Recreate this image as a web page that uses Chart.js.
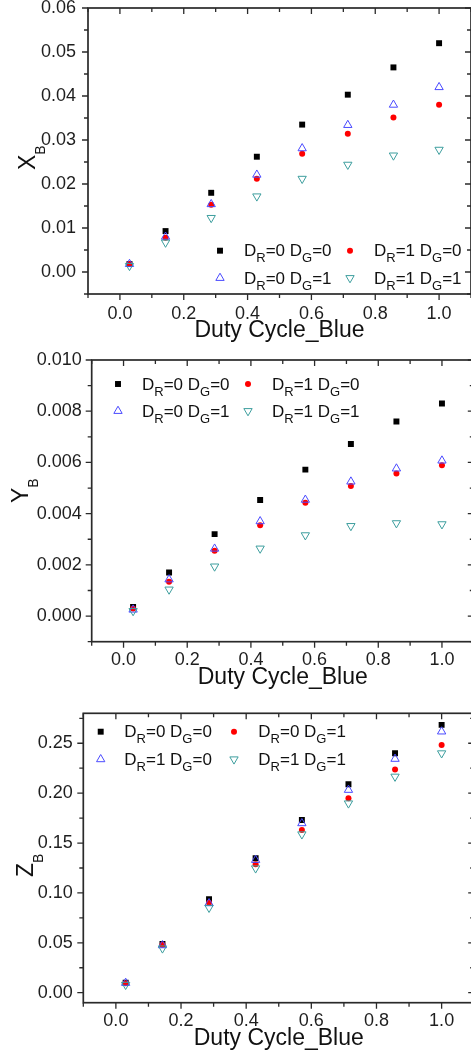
<!DOCTYPE html>
<html>
<head>
<meta charset="utf-8">
<script src="https://cdn.jsdelivr.net/npm/chart.js@4.4.0/dist/chart.umd.min.js"></script>
<style>
  html, body { margin: 0; padding: 0; background: #fff; overflow: hidden; width: 471px; height: 1055px; }
  canvas { position: absolute; left: 0; }
</style>
</head>
<body>
<canvas id="cx" width="480" height="350" style="top:0"></canvas>
<canvas id="cy" width="480" height="355" style="top:340px"></canvas>
<canvas id="cz" width="480" height="375" style="top:680px"></canvas>
<script>
// --- données ---
const dutyCycle = [0.03, 0.143, 0.286, 0.429, 0.571, 0.714, 0.857, 1.0];

const xbR0G0 = [0.0018, 0.0093, 0.0180, 0.0262, 0.0335, 0.0403, 0.0465, 0.0520];
const xbR1G0 = [0.0018, 0.0078, 0.0153, 0.0212, 0.0269, 0.0314, 0.0351, 0.0380];
const xbR0G1 = [0.0018, 0.0080, 0.0154, 0.0221, 0.0281, 0.0334, 0.0380, 0.0420];
const xbR1G1 = [0.0014, 0.0067, 0.0123, 0.0172, 0.0212, 0.0244, 0.0265, 0.0278];

const ybR0G0 = [0.00036, 0.0017, 0.0032, 0.00453, 0.00572, 0.00672, 0.0076, 0.0083];
const ybR1G0 = [0.00030, 0.00134, 0.00255, 0.00355, 0.00443, 0.00508, 0.00557, 0.00589];
const ybR0G1 = [0.00025, 0.00143, 0.00263, 0.00370, 0.00454, 0.00525, 0.00576, 0.00607];
const ybR1G1 = [0.00020, 0.00104, 0.00194, 0.00264, 0.00316, 0.00352, 0.00363, 0.00359];

const zbR0G0 = [0.0100, 0.0488, 0.0936, 0.1347, 0.1731, 0.2089, 0.2400, 0.2684];
const zbR0G1 = [0.0095, 0.0480, 0.0902, 0.1287, 0.1630, 0.1949, 0.2236, 0.2483];
const zbR1G0 = [0.0098, 0.0475, 0.0896, 0.1330, 0.1698, 0.2032, 0.2343, 0.2617];
const zbR1G1 = [0.0080, 0.0445, 0.0852, 0.1247, 0.1588, 0.1898, 0.2166, 0.2400];

const labelsXY = ['D_R=0 D_G=0', 'D_R=1 D_G=0', 'D_R=0 D_G=1', 'D_R=1 D_G=1'];
const labelsZ  = ['D_R=0 D_G=0', 'D_R=0 D_G=1', 'D_R=1 D_G=0', 'D_R=1 D_G=1'];

// graduations
const xTickValues = [-0.1, 0, 0.1, 0.2, 0.3, 0.4, 0.5, 0.6, 0.7, 0.8, 0.9, 1.0, 1.1];
const xTickLabels = ['', '0.0', '', '0.2', '', '0.4', '', '0.6', '', '0.8', '', '1.0', ''];

const xbTickValues = [-0.005, 0, 0.005, 0.01, 0.015, 0.02, 0.025, 0.03, 0.035, 0.04, 0.045, 0.05, 0.055, 0.06];
const xbTickLabels = ['', '0.00', '', '0.01', '', '0.02', '', '0.03', '', '0.04', '', '0.05', '', '0.06'];

const ybTickValues = [-0.001, 0, 0.001, 0.002, 0.003, 0.004, 0.005, 0.006, 0.007, 0.008, 0.009, 0.010];
const ybTickLabels = ['', '0.000', '', '0.002', '', '0.004', '', '0.006', '', '0.008', '', '0.010'];

const zbTickValues = [0, 0.025, 0.05, 0.075, 0.1, 0.125, 0.15, 0.175, 0.2, 0.225, 0.25, 0.275];
const zbTickLabels = ['0.00', '', '0.05', '', '0.10', '', '0.15', '', '0.20', '', '0.25', ''];

const FONT = 'Arial, "Liberation Sans", sans-serif';

// styles des 4 séries (même ordre dans les 3 panneaux)
const STYLES = [
  { pointStyle: 'rect', radius: 4.2, backgroundColor: '#000', borderColor: '#000', borderWidth: 0, order: 4 },
  { pointStyle: 'circle', radius: 3, backgroundColor: '#ff0000', borderColor: '#ff0000', borderWidth: 0, order: 3 },
  { pointStyle: 'triangle', radius: 4.8, backgroundColor: 'rgba(0,0,0,0)', borderColor: '#4a4aff', borderWidth: 1, order: 2 },
  { pointStyle: 'triangle', rotation: 180, radius: 4.8, backgroundColor: 'rgba(0,0,0,0)', borderColor: '#3d9e9e', borderWidth: 1, order: 1 }
];

function makeSets(series, labels) {
  return series.map(function(vals, i) {
    const s = STYLES[i];
    return {
      label: labels[i],
      data: dutyCycle.map(function(x, j) { return { x: x, y: vals[j] }; }),
      pointStyle: s.pointStyle, pointRadius: s.radius, pointHoverRadius: s.radius,
      pointRotation: s.rotation || 0,
      pointBackgroundColor: s.backgroundColor, pointBorderColor: s.borderColor,
      pointBorderWidth: s.borderWidth,
      backgroundColor: s.backgroundColor, borderColor: s.borderColor,
      showLine: false, order: s.order
    };
  });
}

// texte avec indices : "D_R=0" -> D + R en indice
function drawSubText(ctx, text, x, y, size, subSize, subDy) {
  const parts = text.split(/_(\w)/);
  let cx = x;
  parts.forEach(function(p, i) {
    const isSub = i % 2 === 1;
    ctx.font = (isSub ? subSize : size) + 'px ' + FONT;
    ctx.fillText(p, cx, y + (isSub ? subDy : 0));
    cx += ctx.measureText(p).width;
  });
}

function drawSymbol(ctx, ds, x, y) {
  ctx.save();
  ctx.fillStyle = ds.pointBackgroundColor;
  ctx.strokeStyle = ds.pointBorderColor;
  ctx.lineWidth = ds.pointBorderWidth;
  Chart.helpers.drawPoint(ctx, {
    pointStyle: ds.pointStyle, radius: ds.pointRadius,
    rotation: ds.pointRotation, borderWidth: ds.pointBorderWidth
  }, x, y);
  ctx.restore();
}

const framePlugin = {
  id: 'frame',
  afterDatasetsDraw: function(chart, args, o) {
    const ctx = chart.ctx, a = chart.chartArea;
    const xs = chart.scales.x, ys = chart.scales.y;
    ctx.save();
    // cadre
    ctx.strokeStyle = '#2a2a2a';
    ctx.lineWidth = 1.7;
    ctx.strokeRect(a.left, a.top, a.right - a.left, a.bottom - a.top);
    // graduations : dehors en bas/gauche, dedans en haut/droite
    ctx.lineWidth = 1.3;
    ctx.beginPath();
    xs.ticks.forEach(function(t, i) {
      const px = xs.getPixelForTick(i);
      const L = t.label ? 6 : 4;
      ctx.moveTo(px, a.bottom); ctx.lineTo(px, a.bottom + L);
      ctx.moveTo(px, a.top); ctx.lineTo(px, a.top + L);
    });
    ys.ticks.forEach(function(t, i) {
      const py = ys.getPixelForTick(i);
      const L = t.label ? 6 : 4;
      ctx.moveTo(a.left, py); ctx.lineTo(a.left - L, py);
      ctx.moveTo(a.right, py); ctx.lineTo(a.right - L, py);
    });
    ctx.stroke();

    // légende
    ctx.textAlign = 'left';
    ctx.textBaseline = 'middle';
    chart.data.datasets.forEach(function(ds, i) {
      const col = i % 2, row = Math.floor(i / 2);
      const y = o.legRows[row];
      drawSymbol(ctx, ds, o.legSym[col], y);
      ctx.fillStyle = '#111';
      drawSubText(ctx, ds.label, o.legText[col], y + 1, 17, 13, 7);
    });

    // titre axe Y (tourné)
    ctx.translate(o.yTitle[0], o.yTitle[1]);
    ctx.rotate(-Math.PI / 2);
    ctx.textBaseline = 'alphabetic';
    ctx.fillStyle = '#111';
    ctx.font = '23px ' + FONT;
    ctx.fillText(o.axisName, 0, 0);
    const w = ctx.measureText(o.axisName).width;
    ctx.font = '14px ' + FONT;
    ctx.fillText('B', w, 10);
    ctx.restore();
  }
};

function makeChart(id, p) {
  const W = 480, H = document.getElementById(id).height;
  return new Chart(document.getElementById(id), {
    type: 'scatter',
    data: { datasets: makeSets(p.series, p.labels) },
    plugins: [framePlugin],
    options: {
      responsive: false, animation: false, devicePixelRatio: 1,
      layout: { padding: { left: 0, top: p.top, right: W - p.right, bottom: 0 } },
      plugins: {
        legend: { display: false }, tooltip: { enabled: false },
        frame: { legRows: p.legRows, legSym: p.legSym, legText: p.legText, yTitle: p.yTitle, axisName: p.axisName }
      },
      scales: {
        x: {
          type: 'linear', min: -0.1, max: 1.1,
          grid: { display: false, drawTicks: false }, border: { display: false },
          afterBuildTicks: function(s) { s.ticks = xTickValues.map(function(v) { return { value: v }; }); },
          afterFit: function(s) { s.height = H - p.bottom; s.paddingLeft = 0; s.paddingRight = 0; },
          ticks: {
            autoSkip: false, maxRotation: 0, padding: p.xPad, color: '#1e1e1e',
            font: { family: FONT, size: 18 },
            callback: function(v, i) { return xTickLabels[i]; }
          },
          title: {
            display: true, text: 'Duty Cycle_Blue', color: '#111',
            font: { family: FONT, size: 23 }, padding: { top: 0, bottom: p.titlePad }
          }
        },
        y: {
          type: 'linear', min: p.yMin, max: p.yMax,
          grid: { display: false, drawTicks: false }, border: { display: false },
          afterBuildTicks: function(s) { s.ticks = p.yTicks.map(function(v) { return { value: v }; }); },
          afterFit: function(s) { s.width = p.left; s.paddingTop = 0; s.paddingBottom = 0; },
          ticks: {
            autoSkip: false, padding: p.yPad, color: '#1e1e1e',
            font: { family: FONT, size: 18 },
            callback: function(v, i) { return p.yLabels[i]; }
          }
        }
      }
    }
  });
}

makeChart('cx', {
  series: [xbR0G0, xbR1G0, xbR0G1, xbR1G1], labels: labelsXY,
  left: 88, top: 8, bottom: 294, right: 471,
  yMin: -0.005, yMax: 0.06, yTicks: xbTickValues, yLabels: xbTickLabels, yPad: 12, xPad: 9,
  titlePad: 5.2, axisName: 'X', yTitle: [35, 170],
  legRows: [250.7, 278], legSym: [220, 350], legText: [244, 374]
});

makeChart('cy', {
  series: [ybR0G0, ybR1G0, ybR0G1, ybR1G1], labels: labelsXY,
  left: 91.7, top: 20, bottom: 301.7, right: 473.8,
  yMin: -0.001, yMax: 0.010, yTicks: ybTickValues, yLabels: ybTickLabels, yPad: 10, xPad: 8,
  titlePad: 3.7, axisName: 'Y', yTitle: [28, 163],
  legRows: [44, 71], legSym: [118, 248], legText: [142, 272]
});

makeChart('cz', {
  series: [zbR0G0, zbR0G1, zbR1G0, zbR1G1], labels: labelsZ,
  left: 83.3, top: 33.3, bottom: 322.7, right: 474.6,
  yMin: -0.01, yMax: 0.28, yTicks: zbTickValues, yLabels: zbTickLabels, yPad: 10.6, xPad: 8,
  titlePad: 2.8, axisName: 'Z', yTitle: [33, 197],
  legRows: [51.7, 79.3], legSym: [100.7, 234], legText: [124.3, 258.3]
});
</script>
</body>
</html>
